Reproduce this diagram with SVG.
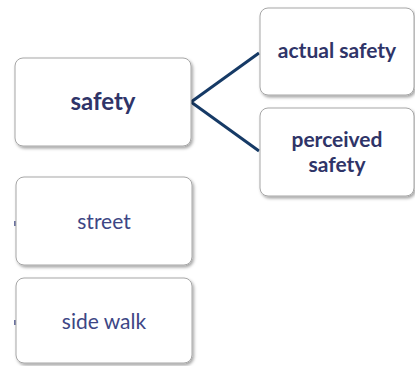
<svg xmlns="http://www.w3.org/2000/svg" width="415" height="366" viewBox="0 0 415 366">
<defs>
<filter id="sh" x="-10%" y="-10%" width="125%" height="130%">
<feDropShadow dx="1.5" dy="2" stdDeviation="1.5" flood-color="#000" flood-opacity="0.35"/>
</filter>
<style>
.box{fill:#fff;stroke:#a6a6a6;stroke-width:1;filter:url(#sh)}
.b{font-family:Lato,"Liberation Sans",sans-serif;font-weight:bold;fill:#2f3468;text-anchor:middle}
.r{font-family:Lato,"Liberation Sans",sans-serif;fill:#3d4685;text-anchor:middle}
.con{stroke:#163a66;stroke-width:3;fill:none;stroke-linejoin:miter}
.tick{stroke:#3d4685;stroke-width:1.5}
</style>
</defs>
<rect width="415" height="366" fill="#fff"/>
<g id="connectors">
<polyline class="con" points="259,53 191,102 259,151"/>
<line class="tick" x1="15" y1="221" x2="15" y2="226"/>
<line class="tick" x1="15" y1="320" x2="15" y2="325"/>
</g>
<g id="safety">
<rect class="box" x="15" y="58" width="176" height="88" rx="8"/>
<text class="b" x="103" y="110" font-size="24">safety</text>
</g>
<g id="actual-safety">
<rect class="box" x="260" y="8" width="154" height="87" rx="8"/>
<text class="b" x="337" y="58" font-size="21">actual safety</text>
</g>
<g id="perceived-safety">
<rect class="box" x="260" y="108" width="154" height="88" rx="8"/>
<text class="b" x="337" y="147" font-size="21">perceived</text>
<text class="b" x="337" y="172" font-size="21">safety</text>
</g>
<g id="street">
<rect class="box" x="16" y="177" width="176" height="88" rx="8"/>
<text class="r" x="104" y="229" font-size="21">street</text>
</g>
<g id="side-walk">
<rect class="box" x="16" y="278" width="176" height="85" rx="8"/>
<text class="r" x="104" y="329" font-size="21">side walk</text>
</g>
</svg>
